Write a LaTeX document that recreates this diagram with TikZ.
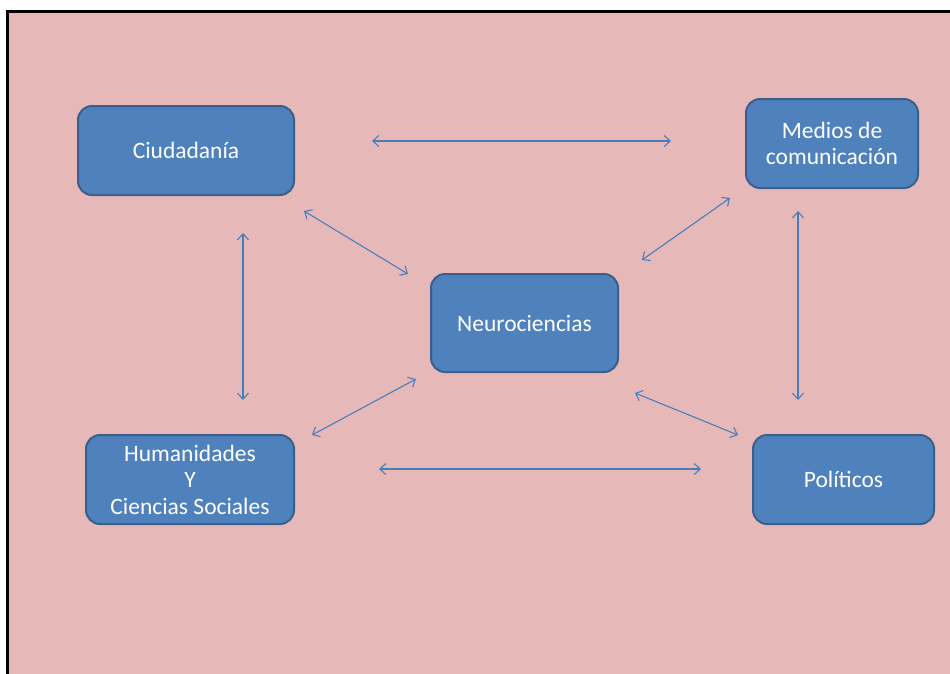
\documentclass[tikz,border=0pt]{standalone}
\usepackage{fontspec}
\setmainfont{Carlito}
\usetikzlibrary{arrows.meta}
\definecolor{sheet}{HTML}{E6B8B7}
\definecolor{boxfill}{HTML}{4F81BD}
\definecolor{boxline}{HTML}{3A5F8C}
\definecolor{linkcol}{HTML}{4A7EBB}
\tikzset{
  topic/.style={draw=boxline, line width=2pt, fill=boxfill, rounded corners=14pt,
    text=white, align=center, inner sep=0pt,
    font=\fontsize{23.5}{26.5}\selectfont},
  link/.style={draw=linkcol, line width=1.1pt,
    {Straight Barb[length=6pt,width=11pt]}-{Straight Barb[length=6pt,width=11pt]}}
}
\begin{document}
\begin{tikzpicture}[x=1pt,y=-1pt]
\useasboundingbox (0,0) rectangle (950,673);
% sheet with its left and top rule
\fill[sheet] (7,11) rectangle (952,675);
\draw[line width=3pt,line cap=rect] (7,675) -- (7,11) -- (952,11);

% topic boxes
\node[topic, minimum width=216pt, minimum height=89pt] (ciud) at (186,150.5) {Ciudadanía};
\node[topic, minimum width=172pt, minimum height=89pt] (medios) at (832,143.5) {Medios de\\comunicación};
\node[topic, minimum width=187pt, minimum height=98pt] (neuro) at (524.5,323) {Neurociencias};
\node[topic, minimum width=208pt, minimum height=89pt] (human) at (190,479.5) {Humanidades\\Y\\Ciencias Sociales};
\node[topic, minimum width=181pt, minimum height=89pt] (polit) at (843.5,479.5) {Políticos};

% connector end points
\coordinate (a1) at (372,141);  \coordinate (a2) at (671,141);
\coordinate (b1) at (304,211);  \coordinate (b2) at (408,274);
\coordinate (c1) at (730,198);  \coordinate (c2) at (642,260);
\coordinate (d1) at (243,233);  \coordinate (d2) at (243,400);
\coordinate (e1) at (798,211);  \coordinate (e2) at (798,400);
\coordinate (f1) at (416,379);  \coordinate (f2) at (312,435);
\coordinate (g1) at (635,393);  \coordinate (g2) at (738,435);
\coordinate (h1) at (379,469);  \coordinate (h2) at (701,469);

% two-way links
\draw[link] (a1) -- (a2);
\draw[link] (b1) -- (b2);
\draw[link] (c1) -- (c2);
\draw[link] (d1) -- (d2);
\draw[link] (e1) -- (e2);
\draw[link] (f1) -- (f2);
\draw[link] (g1) -- (g2);
\draw[link] (h1) -- (h2);
\end{tikzpicture}
\end{document}
